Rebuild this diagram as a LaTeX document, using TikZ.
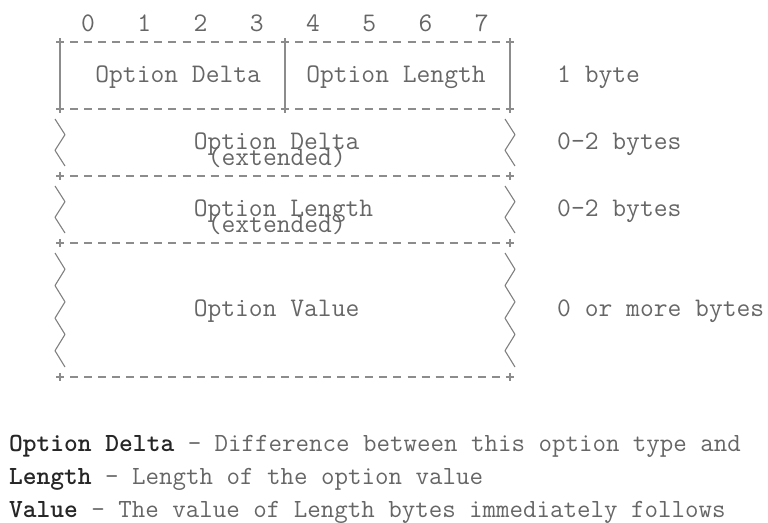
\documentclass[tikz,border=0pt]{standalone}

\begin{document}
\begin{tikzpicture}[
  x=1pt, y=-1pt,
  font=\fontsize{26.8}{16.75}\selectfont\ttfamily,
  frame/.style={draw=black!45, line width=1.1pt},
  sep/.style={frame, dash pattern=on 8pt off 6.06pt, dash phase=4pt},
  wave/.style={draw=black!50, line width=1.1pt, line join=round},
  field/.style={anchor=base west, inner sep=0pt, text=black!60},
  note/.style={anchor=base west, inner sep=0pt, text=black!60,
               font=\fontsize{26.2}{28}\selectfont\ttfamily},
]
\useasboundingbox (0,0) rectangle (768,522);

% ---------------- grid of the option header ----------------
\def\cw{14.06}  % one character column
\def\xl{60}
\def\xm{285}
\def\xr{510}

% separator lines (ascii-like dashes)
\foreach \y in {42,109,176,243,377}
  \draw[sep] (\xl,\y) -- (\xr,\y);

% plus marks at the corners
\foreach \x/\y in {\xl/42,\xm/42,\xr/42,\xl/109,\xm/109,\xr/109,
                   \xl/176,\xr/176,\xl/243,\xr/243,\xl/377,\xr/377}
  \draw[frame] (\x-4,\y) -- (\x+4,\y) (\x,\y-4) -- (\x,\y+4);

% first row has solid sides
\foreach \x in {\xl,\xm,\xr}
  \draw[frame] (\x,42) -- (\x,109);

% wavy sides of the variable length rows
\foreach \t/\b/\n in {109/176/3,176/243/3,243/377/7} {
  \foreach \x in {\xl,\xr} {
    \pgfmathsetmacro\s{(\b-\t-20)/\n}
    \draw[wave] (\x-5,\t+10)
      \foreach \i in {1,...,\n} { -- ({\x+5-10*mod(\i+1,2)},{\t+10+\i*\s}) };
  }
}

% ---------------- bit numbers ----------------
\foreach \b in {0,...,7}
  \node[field, anchor=base] (bit\b) at ({\xl+\cw*(2+4*\b)},31.6) {\b};

% ---------------- field names ----------------
\node[field] (delta)  at ({\xl+\cw*2.5},82)  {Option Delta};
\node[field] (length) at ({\xl+\cw*17.5},82) {Option Length};

\node[field] (deltaext)  at ({\xl+\cw*9.5},149)     {Option Delta};
\node[field] (deltaext2) at ({\xl+\cw*10.5},165.75) {(extended)};
\node[field] (lenext)    at ({\xl+\cw*9.5},216)     {Option Length};
\node[field] (lenext2)   at ({\xl+\cw*10.5},232.75) {(extended)};
\node[field] (value)     at ({\xl+\cw*9.5},316.5)   {Option Value};

% sizes on the right
\node[field] (size1) at (557,82)    {1 byte};
\node[field] (size2) at (557,149)   {0-2 bytes};
\node[field] (size3) at (557,216)   {0-2 bytes};
\node[field] (size4) at (557,316.5) {0 or more bytes};

% ---------------- legend ----------------
\node[note] (notedelta) at (9,451)
  {{\color{black!85}\textbf{Option Delta}} - Difference between this option type and};
\node[note] (notelen) at (9,484)
  {{\color{black!85}\textbf{Length}} - Length of the option value};
\node[note] (noteval) at (9,517)
  {{\color{black!85}\textbf{Value}} - The value of Length bytes immediately follows};

\end{tikzpicture}
\end{document}
